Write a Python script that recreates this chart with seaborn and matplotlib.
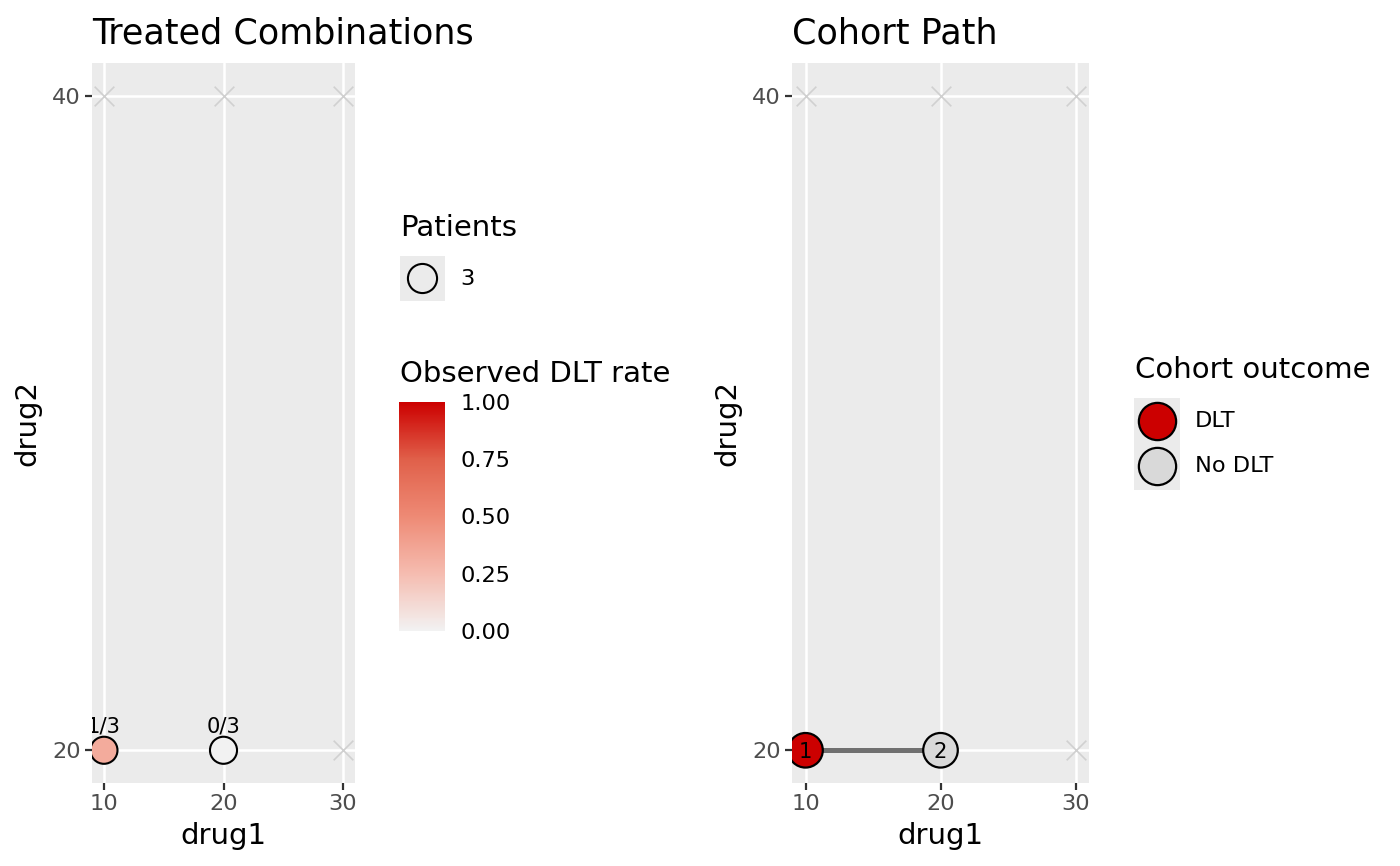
import itertools

import matplotlib.pyplot as plt
import numpy as np
import pandas as pd
import seaborn as sns
from matplotlib.colors import LinearSegmentedColormap, Normalize
from matplotlib.cm import ScalarMappable
from matplotlib.patches import Rectangle

sns.set_style("white")
plt.rcParams["font.family"] = ["DejaVu Sans"]
plt.rcParams["text.color"] = "black"
plt.rcParams["axes.labelcolor"] = "black"
plt.rcParams["axes.titlecolor"] = "black"

# dose grid
drug1_levels = [10, 20, 30]
drug2_levels = [20, 40]

# treated combinations
treated_drug1 = [10, 20]
treated_drug2 = [20, 20]
n_patients = [3, 3]
n_dlt = [1, 0]

# cohort path
cohort_id = [1, 2]
cohort_drug1 = [10, 20]
cohort_drug2 = [20, 20]
cohort_outcome = ["DLT", "No DLT"]
outcome_colors = {"DLT": "#CC0000", "No DLT": "#D9D9D9"}

rate_ticks = [0.0, 0.25, 0.50, 0.75, 1.00]

W, H = 1400, 866
fig = plt.figure(figsize=(W / 100, H / 100), dpi=100)
ax1 = fig.add_axes([92 / W, 83 / H, 263 / W, 720 / H])
ax2 = fig.add_axes([792 / W, 83 / H, 297 / W, 720 / H])

cmap = LinearSegmentedColormap.from_list(
    "dlt", ["#F2F2F2", "#F5BCB0", "#EE8A75", "#E0604A", "#CC0000"]
)

grid = pd.DataFrame(list(itertools.product(drug1_levels, drug2_levels)),
                    columns=["drug1", "drug2"])

for ax, title in [(ax1, "Treated Combinations"), (ax2, "Cohort Path")]:
    ax.set_facecolor("#EBEBEB")
    for s in ax.spines.values():
        s.set_visible(False)
    ax.set_axisbelow(True)
    ax.grid(True, color="white", linewidth=1.8)
    sns.scatterplot(data=grid, x="drug1", y="drug2", marker="x", color="#D0D0D0",
                    s=200, linewidth=1.2, ax=ax, zorder=2)
    ax.set_xlim(9, 31)
    ax.set_ylim(19, 41)
    ax.set_xticks(drug1_levels)
    ax.set_yticks(drug2_levels)
    ax.tick_params(length=5, width=1.6, color="#333333", labelcolor="#4D4D4D",
                   labelsize=16.2, pad=3, bottom=True, left=True)
    ax.set_title(title, loc="left", fontsize=25.2, pad=14)

# left panel: treated combinations
treated = pd.DataFrame({"drug1": treated_drug1, "drug2": treated_drug2,
                        "n": n_patients, "dlt": n_dlt})
treated["rate"] = treated["dlt"] / treated["n"]
sns.scatterplot(data=treated, x="drug1", y="drug2", hue="rate", palette=cmap,
                hue_norm=(0, 1), s=380, edgecolor="black", linewidth=1.5,
                legend=False, ax=ax1, zorder=3)
for _, r in treated.iterrows():
    ax1.annotate(f"{int(r['dlt'])}/{int(r['n'])}", (r["drug1"], r["drug2"]),
                 xytext=(0, 10), textcoords="offset points", ha="center",
                 va="bottom", fontsize=15.2, clip_on=True, zorder=4)

# right panel: cohort path
cohorts = pd.DataFrame({"id": cohort_id, "drug1": cohort_drug1,
                        "drug2": cohort_drug2, "outcome": cohort_outcome})
sns.lineplot(data=cohorts, x="drug1", y="drug2", sort=False, estimator=None,
             color="#707070", linewidth=3.6, ax=ax2, zorder=2)
sns.scatterplot(data=cohorts, x="drug1", y="drug2", hue="outcome",
                palette=outcome_colors, s=620, edgecolor="black", linewidth=1.6,
                legend=False, ax=ax2, zorder=3)
for _, r in cohorts.iterrows():
    ax2.text(r["drug1"], r["drug2"], str(r["id"]), ha="center",
             va="center_baseline", fontsize=15.2, zorder=4, clip_on=True)

for ax in (ax1, ax2):
    ax.set_xlabel("drug1", fontsize=21, labelpad=6)
    ax.set_ylabel("drug2", fontsize=21, labelpad=8)

# legends (overlay in pixel coordinates)
lg = fig.add_axes([0, 0, 1, 1], zorder=-1)
lg.set_xlim(0, W)
lg.set_ylim(H, 0)
lg.axis("off")

lg.text(400, 228, "Patients", fontsize=21, va="center", ha="left")
lg.add_patch(Rectangle((400, 256), 45, 45, color="#EBEBEB", lw=0))
lg.scatter([422.5], [278.5], s=440, facecolor="none", edgecolor="black",
           linewidth=1.5, zorder=3)
lg.text(460, 279, str(n_patients[0]), fontsize=16.2, va="center", ha="left")

lg.text(400, 374, "Observed DLT rate", fontsize=21, va="center", ha="left")
cax = fig.add_axes([399 / W, (H - 631) / H, 46 / W, 229 / H])
cb = fig.colorbar(ScalarMappable(norm=Normalize(0, 1), cmap=cmap), cax=cax,
                  ticks=rate_ticks)
cb.outline.set_visible(False)
cax.set_yticklabels([f"{t:.2f}" for t in rate_ticks])
cax.tick_params(direction="in", length=8, width=1, color="white", left=True,
                right=True, labelsize=16.2, pad=11, labelcolor="black")

lg.text(1135, 370, "Cohort outcome", fontsize=21, va="center", ha="left")
lg.add_patch(Rectangle((1134, 398), 46, 92, color="#EBEBEB", lw=0))
for i, name in enumerate(outcome_colors):
    yy = 421 + i * 45
    lg.scatter([1157], [yy], s=720, facecolor=outcome_colors[name],
               edgecolor="black", linewidth=1.6, zorder=3)
    lg.text(1195, yy, name, fontsize=16.2, va="center", ha="left")

fig.savefig("out.png", dpi=100)
